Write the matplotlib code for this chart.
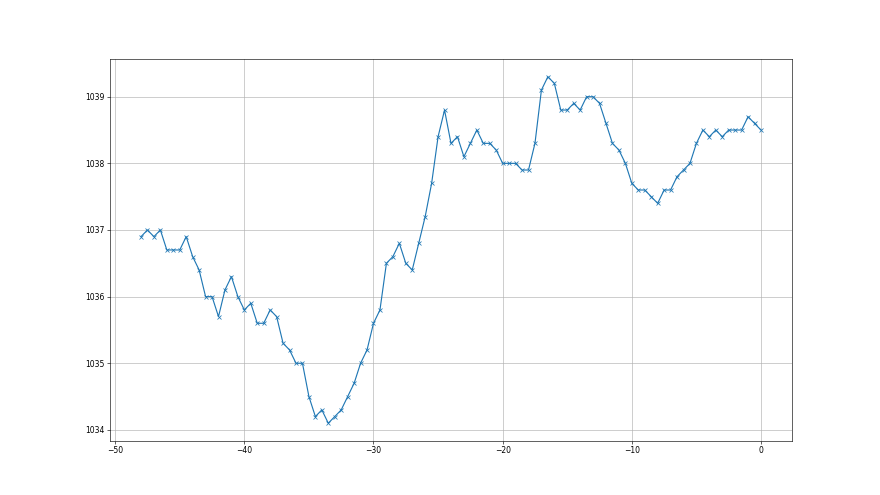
import matplotlib
matplotlib.use("Agg")
import matplotlib.pyplot as plt
import numpy as np

# time offsets (hours) and pressure readings
hours = np.arange(-48, 0.5, 0.5)
pressure = [
    1036.9, 1037.0, 1036.9, 1037.0, 1036.7, 1036.7, 1036.7, 1036.9, 1036.6, 1036.4,
    1036.0, 1036.0, 1035.7, 1036.1, 1036.3, 1036.0, 1035.8, 1035.9, 1035.6, 1035.6,
    1035.8, 1035.7, 1035.3, 1035.2, 1035.0, 1035.0, 1034.5, 1034.2, 1034.3, 1034.1,
    1034.2, 1034.3, 1034.5, 1034.7, 1035.0, 1035.2, 1035.6, 1035.8, 1036.5, 1036.6,
    1036.8, 1036.5, 1036.4, 1036.8, 1037.2, 1037.7, 1038.4, 1038.8, 1038.3, 1038.4,
    1038.1, 1038.3, 1038.5, 1038.3, 1038.3, 1038.2, 1038.0, 1038.0, 1038.0, 1037.9,
    1037.9, 1038.3, 1039.1, 1039.3, 1039.2, 1038.8, 1038.8, 1038.9, 1038.8, 1039.0,
    1039.0, 1038.9, 1038.6, 1038.3, 1038.2, 1038.0, 1037.7, 1037.6, 1037.6, 1037.5,
    1037.4, 1037.6, 1037.6, 1037.8, 1037.9, 1038.0, 1038.3, 1038.5, 1038.4, 1038.5,
    1038.4, 1038.5, 1038.5, 1038.5, 1038.7, 1038.6, 1038.5,
]

fig, ax = plt.subplots(figsize=(16, 9), dpi=55)
ax.plot(hours, pressure, marker="x", color="#1f77b4")
ax.grid(True)
fig.savefig("out.png", dpi=55)
